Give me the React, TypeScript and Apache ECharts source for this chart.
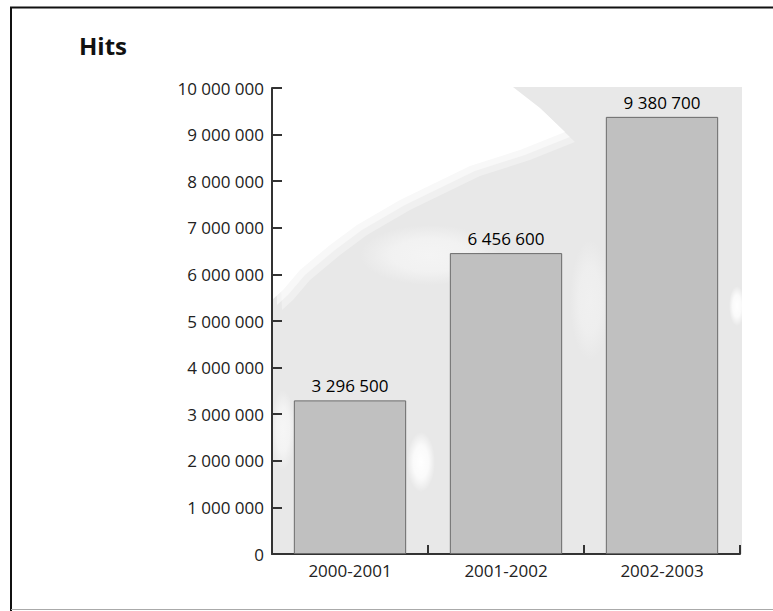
import React, { useEffect, useRef } from "react";
import * as echarts from "echarts";

// Season labels and hit counts per season
const categories = ["2000-2001", "2001-2002", "2002-2003"];
const hits = [3296500, 6456600, 9380700];

// Value axis range and step
const yMin = 0;
const yMax = 10000000;
const yStep = 1000000;

const fmt = (v: number) => String(Math.round(v)).replace(/\B(?=(\d{3})+(?!\d))/g, " ");

const FONT = "'Open Sans', 'Noto Sans', sans-serif";

// soft white spot used to lighten parts of the backdrop
const spot = (cx: number, cy: number, rx: number, ry: number, color = "255,255,255") => ({
  type: "ellipse",
  shape: { cx, cy, rx, ry },
  style: {
    fill: new echarts.graphic.RadialGradient(0.5, 0.5, 0.5, [
      { offset: 0, color: `rgba(${color},1)` },
      { offset: 0.55, color: `rgba(${color},0.8)` },
      { offset: 1, color: `rgba(${color},0)` },
    ]),
  },
});

// white area of the backdrop, drawn a few times slightly offset to soften its edge
const cloud: number[][] = [
  [272, 87], [513, 87], [540, 108], [565, 132], [520, 150], [470, 166],
  [400, 200], [357, 225], [330, 245], [300, 270], [283, 290], [272, 300],
];
const shifted = (dx: number, dy: number) => cloud.map(([x, y], i) => (i === 0 ? [x, y] : [x + dx, y + dy]));

export default function App() {
  const ref = useRef<HTMLDivElement>(null);

  useEffect(() => {
    document.body.style.margin = "0";
    if (!ref.current) return;
    const chart = echarts.init(ref.current, undefined, { renderer: "svg" });

    const option: echarts.EChartsOption = {
      animation: false,
      backgroundColor: "#ffffff",
      grid: { left: 272, right: 33, top: 88, bottom: 57, containLabel: false },
      graphic: [
        {
          type: "group",
          z: -10,
          silent: true,
          children: [
            { type: "rect", shape: { x: 272, y: 87, width: 470, height: 467 }, style: { fill: "#e8e8e8" } },
            { type: "polygon", shape: { points: shifted(10, 10) }, style: { fill: "rgba(255,255,255,0.35)" } },
            { type: "polygon", shape: { points: shifted(5, 5) }, style: { fill: "rgba(255,255,255,0.5)" } },
            { type: "polygon", shape: { points: cloud }, style: { fill: "#ffffff" } },
            spot(430, 255, 70, 30, "244,244,244"),
            spot(421, 462, 14, 30),
            spot(737, 306, 8, 20),
            spot(283, 430, 12, 40, "246,246,246"),
            spot(590, 300, 20, 60, "240,240,240"),
          ] as any,
        },
        // frame lines
        { type: "line", shape: { x1: 10, y1: 7.5, x2: 773, y2: 7.5 }, style: { stroke: "#111111", lineWidth: 2 } },
        { type: "line", shape: { x1: 11, y1: 7, x2: 11, y2: 611 }, style: { stroke: "#111111", lineWidth: 2 } },
        { type: "line", shape: { x1: 11, y1: 609.5, x2: 773, y2: 609.5 }, style: { stroke: "#aaaaaa", lineWidth: 1 } },
        {
          type: "text",
          x: 79,
          y: 45,
          style: { text: "Hits", font: `bold 24px ${FONT}`, fill: "#111111", verticalAlign: "middle" },
        },
      ],
      xAxis: {
        type: "category",
        data: categories,
        axisLine: { show: true, lineStyle: { color: "#333333", width: 2 } },
        axisTick: { show: true, inside: true, length: 9, lineStyle: { color: "#333333", width: 2 } },
        axisLabel: { color: "#222222", fontFamily: FONT, fontSize: 17, margin: 8 },
        splitLine: { show: false },
      },
      yAxis: {
        type: "value",
        min: yMin,
        max: yMax,
        interval: yStep,
        axisLine: { show: true, lineStyle: { color: "#333333", width: 2 } },
        axisTick: { show: true, inside: true, length: 10, lineStyle: { color: "#333333", width: 2 } },
        axisLabel: { color: "#222222", fontFamily: FONT, fontSize: 17, margin: 8, formatter: (v: number) => fmt(v) },
        splitLine: { show: false },
      },
      series: [
        {
          type: "bar",
          data: hits,
          barCategoryGap: "28%",
          itemStyle: { color: "#c0c0c0", borderColor: "#6a6a6a", borderWidth: 1 },
          label: {
            show: true,
            position: "top",
            distance: 6,
            color: "#000000",
            fontFamily: FONT,
            fontSize: 17,
            formatter: (p: any) => fmt(p.value),
          },
        },
      ],
    };

    chart.setOption(option);
    return () => chart.dispose();
  }, []);

  return <div ref={ref} style={{ width: 773, height: 611 }} />;
}
